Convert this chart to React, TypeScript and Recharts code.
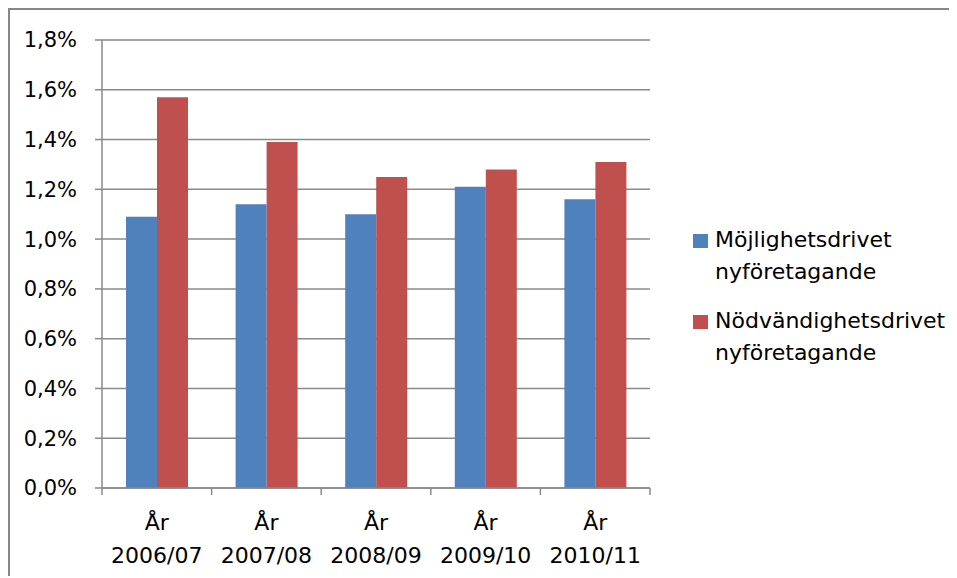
import { BarChart, Bar, XAxis, YAxis, CartesianGrid } from 'recharts';

const categories = ['År 2006/07', 'År 2007/08', 'År 2008/09', 'År 2009/10', 'År 2010/11'];
const mojlighet = [1.09, 1.14, 1.1, 1.21, 1.16];
const nodvandighet = [1.57, 1.39, 1.25, 1.28, 1.31];
const yTicks = [0, 0.2, 0.4, 0.6, 0.8, 1.0, 1.2, 1.4, 1.6, 1.8];

const seriesNames = ['Möjlighetsdrivet nyföretagande', 'Nödvändighetsdrivet nyföretagande'];
const COLORS = ['#4F81BD', '#C0504D'];
const GRID = '#8a8a8a';
const FONT = '"DejaVu Sans", sans-serif';

const data = categories.map((name, i) => ({
  name,
  mojlighet: mojlighet[i],
  nodvandighet: nodvandighet[i],
}));

const CHART_W = 944;
const CHART_H = 566;
const MARGIN = { top: 30, right: 304, bottom: 0, left: 0 };
const Y_W = 92;
const PLOT_W = CHART_W - MARGIN.right - Y_W;

function CategoryTick(props: any) {
  const { x, y, payload, index } = props;
  const band = PLOT_W / categories.length;
  const label: string = payload.value;
  const cut = label.indexOf(' ');
  const first = label.slice(0, cut);
  const second = label.slice(cut + 1);
  return (
    <g>
      <line x1={x - band / 2} x2={x - band / 2} y1={y} y2={y + 7} stroke={GRID} strokeWidth={1.5} />
      {index === categories.length - 1 && (
        <line x1={x + band / 2} x2={x + band / 2} y1={y} y2={y + 7} stroke={GRID} strokeWidth={1.5} />
      )}
      <text x={x} y={y + 42} textAnchor="middle" fill="#000" fontSize={22} fontFamily={FONT}>
        {first}
      </text>
      <text x={x} y={y + 75} textAnchor="middle" fill="#000" fontSize={22} fontFamily={FONT}>
        {second}
      </text>
    </g>
  );
}

function LegendBox() {
  return (
    <div
      style={{
        position: 'absolute',
        left: 683,
        top: 214,
        fontFamily: FONT,
        fontSize: 22,
        lineHeight: '32px',
        color: '#000',
      }}
    >
      {seriesNames.map((name, i) => {
        const cut = name.indexOf(' ');
        return (
          <div key={name} style={{ position: 'relative', paddingLeft: 22, marginBottom: 17 }}>
            <span
              style={{
                position: 'absolute',
                left: 0,
                top: 10,
                width: 15,
                height: 14,
                background: COLORS[i],
              }}
            />
            <div>{name.slice(0, cut)}</div>
            <div>{name.slice(cut + 1)}</div>
          </div>
        );
      })}
    </div>
  );
}

export default function App() {
  return (
    <div
      style={{
        position: 'relative',
        width: 949,
        height: CHART_H,
        borderTop: '2px solid #878787',
        borderLeft: '2px solid #878787',
        background: '#fff',
      }}
    >
      <BarChart width={CHART_W} height={CHART_H} data={data} margin={MARGIN} barGap={0} barSize={31}>
        <CartesianGrid vertical={false} stroke={GRID} strokeWidth={1.5} />
        <XAxis
          dataKey="name"
          height={88}
          axisLine={{ stroke: GRID, strokeWidth: 1.5 }}
          tickLine={false}
          tickSize={0}
          tickMargin={0}
          interval={0}
          tick={<CategoryTick />}
        />
        <YAxis
          width={Y_W}
          domain={[0, 1.8]}
          ticks={yTicks}
          interval={0}
          axisLine={{ stroke: GRID, strokeWidth: 1.5 }}
          tickLine={{ stroke: GRID, strokeWidth: 1.5 }}
          tickSize={7}
          tickMargin={18}
          tickFormatter={(v: number) => v.toFixed(1).replace('.', ',') + '%'}
          tick={{ fill: '#000', fontSize: 21, fontFamily: FONT }}
        />
        <Bar dataKey="mojlighet" name={seriesNames[0]} fill={COLORS[0]} isAnimationActive={false} />
        <Bar dataKey="nodvandighet" name={seriesNames[1]} fill={COLORS[1]} isAnimationActive={false} />
      </BarChart>
      <LegendBox />
    </div>
  );
}
